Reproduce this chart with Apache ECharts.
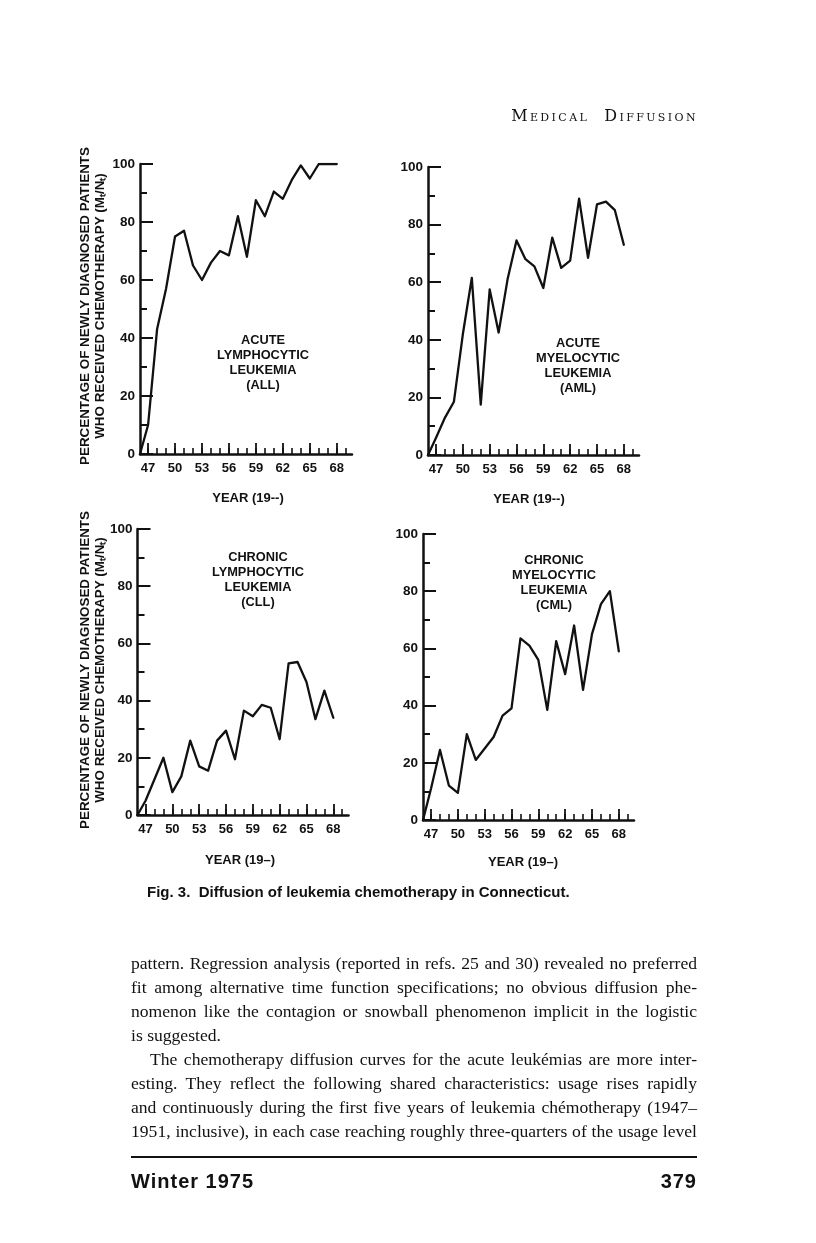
<!DOCTYPE html>
<html><head><meta charset="utf-8">
<script src="https://cdn.jsdelivr.net/npm/echarts@6/dist/echarts.min.js"></script>
<style>
html,body{margin:0;padding:0;background:#fff;}
#chart{position:absolute;left:0;top:0;width:816px;height:1243px;}
.t{position:absolute;color:#111;white-space:nowrap;}
.ln{position:absolute;left:131px;width:566px;white-space:nowrap;text-align:justify;text-align-last:justify;font-family:'Liberation Serif',serif;font-size:17.6px;line-height:20px;color:#111;}
</style></head>
<body>
<div id="chart"></div>
<div id="page"></div>
<script>
// ---- data (two-digit years, 19xx) ----
const YEARS = [47,48,49,50,51,52,53,54,55,56,57,58,59,60,61,62,63,64,65,66,67,68];
const ORIGIN_YEAR = 46.1;   // each curve starts at 0 at the axis origin
const ORIGIN_VALUE = 0;
const ALL_VALUES = [10, 43, 57, 75, 77, 65, 60, 66, 70, 68.5, 82, 68, 87.5, 82, 90.5, 88, 94.5, 99.5, 95, 100, 100, 100];
const AML_VALUES = [6, 13, 18.5, 42, 61.5, 17.5, 57.5, 42.5, 61, 74.5, 68, 65.5, 58, 75.5, 65, 67.5, 89, 68.5, 87, 88, 85, 73];
const CLL_VALUES = [5, 12.5, 20, 8, 13.5, 26, 17, 15.5, 26, 29.5, 19.5, 36.5, 34.5, 38.5, 37.5, 26.5, 53, 53.5, 46.5, 33.5, 43.5, 34];
const CML_VALUES = [11, 24.5, 12, 9.5, 30, 21, 25, 29, 36.5, 39, 63.5, 61, 56, 38.5, 62.5, 51, 68, 45.5, 65, 75.5, 80, 59];
const X_TICK_YEARS = [47,48,49,50,51,52,53,54,55,56,57,58,59,60,61,62,63,64,65,66,67,68,69];
const X_LABEL_YEARS = [47,50,53,56,59,62,65,68];
const PANEL_NAMES = [
  'ACUTE\nLYMPHOCYTIC\nLEUKEMIA\n(ALL)',
  'ACUTE\nMYELOCYTIC\nLEUKEMIA\n(AML)',
  'CHRONIC\nLYMPHOCYTIC\nLEUKEMIA\n(CLL)',
  'CHRONIC\nMYELOCYTIC\nLEUKEMIA\n(CML)'
];
const X_TITLES = ['YEAR (19--)', 'YEAR (19--)', 'YEAR (19\u2013)', 'YEAR (19\u2013)'];
const Y_TITLE_1 = 'PERCENTAGE OF NEWLY DIAGNOSED PATIENTS';
const Y_TITLE_2 = 'WHO RECEIVED CHEMOTHERAPY (M\u209C/N\u209C)';
const CAPTION = 'Fig. 3.  Diffusion of leukemia chemotherapy in Connecticut.';
const SERIES = [ALL_VALUES, AML_VALUES, CLL_VALUES, CML_VALUES];

// ---- layout ----
const FONT = "'Liberation Sans', Arial, sans-serif";
const INK = '#111';
const GRIDS = [
  {left:140, top:164, width:212, height:290},
  {left:428, top:167, width:211, height:288},
  {left:137.5, top:529, width:211, height:286},
  {left:423, top:534, width:211, height:286}
];
const NAME_POS = [[263,333],[578,336],[258,550],[554,553]];
const XT_POS = [[248,498],[529,499],[240,860],[523,862]];

const chart = echarts.init(document.getElementById('chart'), null, {renderer:'canvas'});
const grid = [], xAxis = [], yAxis = [], series = [];
GRIDS.forEach((g, i) => {
  grid.push(Object.assign({containLabel:false}, g));
  xAxis.push({
    gridIndex:i, type:'value', min:ORIGIN_YEAR, max:69.7,
    axisLine:{show:true, onZero:false, lineStyle:{color:INK, width:2.5}},
    axisTick:{show:true, inside:true, length:6, customValues:X_TICK_YEARS, lineStyle:{color:INK, width:1.6}},
    axisLabel:{show:true, customValues:X_LABEL_YEARS, margin:8, color:INK, fontFamily:FONT, fontWeight:'bold', fontSize:13},
    splitLine:{show:false}
  });
  xAxis.push({
    gridIndex:i, type:'value', min:ORIGIN_YEAR, max:69.7, position:'bottom',
    axisLine:{show:false},
    axisTick:{show:true, inside:true, length:11, customValues:X_LABEL_YEARS, lineStyle:{color:INK, width:1.8}},
    axisLabel:{show:false},
    splitLine:{show:false}
  });
  yAxis.push({
    gridIndex:i, type:'value', min:0, max:100, interval:20,
    axisLine:{show:true, onZero:false, lineStyle:{color:INK, width:2.5}},
    axisTick:{show:true, inside:true, length:13, lineStyle:{color:INK, width:2}},
    minorTick:{show:true, splitNumber:2, length:7, lineStyle:{color:INK, width:2}},
    axisLabel:{margin:5, color:INK, fontFamily:FONT, fontWeight:'bold', fontSize:13.5},
    splitLine:{show:false}
  });
  const vals = SERIES[i];
  const data = [[ORIGIN_YEAR, ORIGIN_VALUE]].concat(YEARS.map((y, j) => [y, vals[j]]));
  series.push({
    type:'line', xAxisIndex:2*i, yAxisIndex:i, data:data,
    showSymbol:false, symbol:'none', silent:true,
    lineStyle:{color:INK, width:2.3, join:'round', cap:'round'}
  });
});

const graphic = [];
PANEL_NAMES.forEach((name, i) => {
  graphic.push({type:'text', x:NAME_POS[i][0], y:NAME_POS[i][1],
    style:{text:name, fill:INK, font:"bold 12.8px " + FONT, align:'center', verticalAlign:'top', lineHeight:15}});
  graphic.push({type:'text', x:XT_POS[i][0], y:XT_POS[i][1],
    style:{text:X_TITLES[i], fill:INK, font:"bold 13px " + FONT, align:'center', verticalAlign:'middle'}});
});
[[306],[670]].forEach(([cy]) => {
  graphic.push({type:'text', x:85, y:cy, rotation:Math.PI/2,
    style:{text:Y_TITLE_1, fill:INK, font:"bold 13.4px " + FONT, align:'center', verticalAlign:'middle'}});
  graphic.push({type:'text', x:100, y:cy, rotation:Math.PI/2,
    style:{text:Y_TITLE_2, fill:INK, font:"bold 13.4px " + FONT, align:'center', verticalAlign:'middle'}});
});
graphic.push({type:'text', x:147, y:893,
  style:{text:CAPTION, fill:INK, font:"bold 15px " + FONT, align:'left', verticalAlign:'middle'}});

chart.setOption({
  animation:false,
  backgroundColor:'#fff',
  grid:grid, xAxis:xAxis, yAxis:yAxis, series:series, graphic:graphic
});

// ---- page text around the figure ----
const BODY_LINES = [
  ['pattern. Regression analysis (reported in refs. 25 and 30) revealed no preferred', 0, true],
  ['fit among alternative time function specifications; no obvious diffusion phe-', 0, true],
  ['nomenon like the contagion or snowball phenomenon implicit in the logistic', 0, true],
  ['is suggested.', 0, false],
  ['The chemotherapy diffusion curves for the acute leuk\u00e9mias are more inter-', 19, true],
  ['esting. They reflect the following shared characteristics:  usage rises rapidly', 0, true],
  ['and continuously during the first five years of leukemia ch\u00e9motherapy (1947\u2013', 0, true],
  ['1951, inclusive), in each case reaching roughly three-quarters of the usage level', 0, true]
];
const page = document.getElementById('page');
function add(html, css, cls) {
  const d = document.createElement('div');
  d.className = cls || 't';
  d.innerHTML = html;
  Object.assign(d.style, css);
  page.appendChild(d);
  return d;
}
add('Medical&nbsp; Diffusion', {right:'118px', top:'106px', fontFamily:"'DejaVu Serif', serif", fontVariant:'small-caps', fontSize:'16px', letterSpacing:'2.4px'});
BODY_LINES.forEach((ln, k) => {
  const d = add(ln[0], {top:(953 + k*24) + 'px', left:(131 + ln[1]) + 'px', width:(566 - ln[1]) + 'px'}, 'ln');
  if (!ln[2]) { d.style.textAlignLast = 'left'; d.style.textAlign = 'left'; }
});
add('', {left:'131px', top:'1156px', width:'566px', height:'2px', background:'#111'});
add('Winter 1975', {left:'131px', top:'1170px', fontFamily:FONT, fontWeight:'bold', fontSize:'20px', letterSpacing:'1px'});
add('379', {right:'119px', top:'1170px', fontFamily:FONT, fontWeight:'bold', fontSize:'20px', letterSpacing:'1px'});
</script>
</body></html>
